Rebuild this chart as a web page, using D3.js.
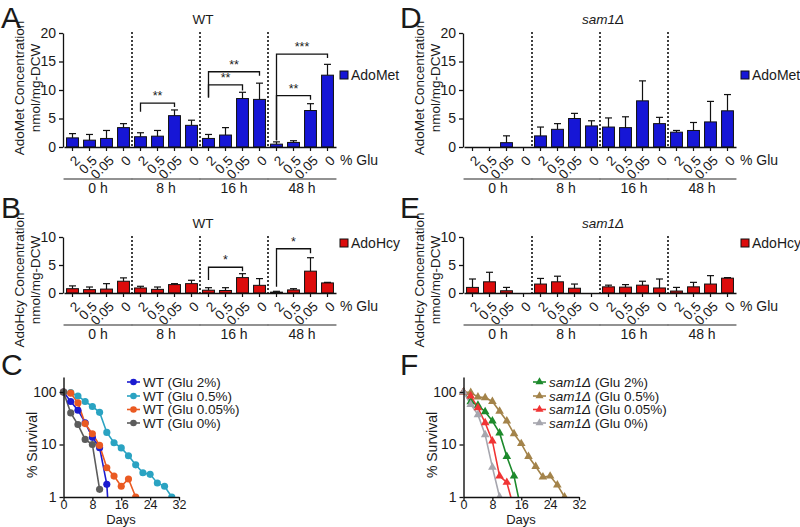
<!DOCTYPE html>
<html><head><meta charset="utf-8">
<script src="https://cdn.jsdelivr.net/npm/d3@7"></script>
<style>body{margin:0;background:#fff}svg{display:block}text{font-family:"Liberation Sans",Arial,sans-serif;fill:#1a1a1a}</style>
</head><body><div id="chart"></div>
<script>
// ---------- data ----------
const gluLevels = ["2", "0.5", "0.05", "0"];
const timePoints = ["0 h", "8 h", "16 h", "48 h"];
const barTicksA = [0, 5, 10, 15, 20];
const barTicksB = [0, 5, 10];

const wtAdoMet    = [1.6, 1.2, 1.5, 3.4,  1.8, 1.9, 5.5, 3.8,  1.5, 2.1, 8.5, 8.35,  0.5, 0.8, 6.4, 12.6];
const wtAdoMetErr = [0.75, 1.0, 1.4, 0.7, 0.7, 1.0, 1.0, 0.9,  0.7, 1.3, 1.1, 2.85,  0.4, 0.3, 1.2, 1.9];
const wtAdoHcy    = [0.77, 0.6, 0.7, 2.1, 0.9, 0.65, 1.5, 1.67, 0.5, 0.45, 2.75, 1.37, 0.15, 0.55, 3.9, 1.8];
const wtAdoHcyErr = [0.5, 0.47, 0.97, 0.6, 0.3, 0.42, 0.17, 0.6, 0.45, 0.5, 0.7, 1.2, 0.15, 0.22, 2.4, 0.1];
const samAdoMet    = [0, 0, 0.76, 0,  1.95, 3.1, 5.0, 3.7,  3.5, 3.4, 8.1, 4.1,  2.6, 2.9, 4.4, 6.35];
const samAdoMetErr = [0, 0, 1.2, 0,   1.55, 1.0, 0.9, 0.9,  1.6, 1.9, 3.5, 1.1,  0.3, 1.4, 3.6, 2.85];
const samAdoHcy    = [1.0, 2.0, 0.4, 0,  1.6, 2.0, 0.85, 0,  1.1, 1.05, 1.4, 0.9,  0.35, 1.1, 1.6, 2.65];
const samAdoHcyErr = [1.5, 1.7, 0.6, 0,  1.0, 1.0, 0.75, 0,  0.3, 0.45, 0.7, 1.6,  0.65, 0.8, 1.5, 0.1];

// significance brackets: [fromBar, toBar, y, leftLegEnd, rightLegEnd, label]
const bracketsA = [[4, 6, 7.7, 6.2, 7.0, "**"], [8, 10, 10.9, 8.7, 9.9, "**"], [8, 11, 13.2, 8.7, 12.5, "**"],
                   [12, 14, 9.0, 1.2, 8.3, "**"], [12, 15, 16.3, 1.2, 15.6, "***"]];
const bracketsB = [[8, 10, 4.6, 2.3, 3.9, "*"], [12, 14, 7.9, 1.1, 7.1, "*"]];

const survTicksX = [0, 8, 16, 24, 32];
const survTicksY = [1, 10, 100];
const wtNames = ["WT (Glu 2%)", "WT (Glu 0.5%)", "WT (Glu 0.05%)", "WT (Glu 0%)"];
const samNames = ["(Glu 2%)", "(Glu 0.5%)", "(Glu 0.05%)", "(Glu 0%)"];
const wtDays = [
  [0, 2, 4, 6, 8, 10, 12, 14],
  [0, 2, 4, 6, 8, 10, 12, 14, 16, 18, 20, 22, 24, 26, 28, 30],
  [0, 2, 4, 6, 8, 10, 12, 14, 16, 18, 20],
  [0, 2, 4, 6, 8, 10]];
const wtSurv = [
  [100, 66, 45, 26, 13.7, 8.7, 1.74, 0.01],
  [100, 97, 84, 66, 53, 41, 17, 10.8, 8.6, 6.1, 4.1, 2.9, 2.7, 1.85, 1.6, 1.0],
  [100, 95, 62, 25, 16, 9.6, 3.6, 2.5, 1.6, 2.2, 1.0],
  [100, 40, 24, 12.5, 10, 1.4]];
const samDays = [
  [0, 2, 4, 6, 8, 10, 12, 14, 16],
  [0, 2, 4, 6, 8, 10, 12, 14, 16, 18, 20, 22, 24, 26, 28],
  [0, 2, 4, 6, 8, 10, 12, 14],
  [0, 2, 4, 6, 8, 10]];
const samSurv = [
  [100, 65, 56, 42, 28, 16.6, 5.9, 2.5, 0.55],
  [100, 98, 80, 78, 66, 43, 28, 16, 10.4, 5.9, 3.8, 2.4, 2.5, 1.7, 1.0],
  [100, 84, 50, 26, 11.7, 2.5, 1.9, 0.6],
  [100, 58, 37, 15.4, 3.7, 1.0]];
const wtColors = ["#1b1bd0", "#2aa3c2", "#ea5a22", "#5c5c5c"];
const samColors = ["#1d8a2c", "#a3834a", "#f03434", "#a6a6ae"];

// ---------- drawing ----------
const FONT = "Liberation Sans, Arial, sans-serif";
const svg = d3.select("#chart").append("svg").attr("width", 800).attr("height", 527);

function letter(t, x, y) {
  svg.append("text").attr("x", x).attr("y", y).attr("font-size", 30).text(t);
}

function barPanel(o) {
  const g = svg.append("g");
  const x = d3.scaleBand().domain(d3.range(16)).range([o.ox + 64, o.ox + 336]).paddingInner(0.3).paddingOuter(0.15);
  const y = d3.scaleLinear().domain([0, o.ymax]).range([o.axisY, o.topY]);
  const bw = x.bandwidth(), step = x.step();
  [4, 8, 12].forEach(i => {
    const sx = x(i) - (step - bw) / 2;
    g.append("line").attr("x1", sx).attr("x2", sx).attr("y1", o.topY - 1).attr("y2", o.axisY)
      .attr("stroke", "#111").attr("stroke-width", 1.6).attr("stroke-dasharray", "2,2");
  });
  g.selectAll(".bar").data(o.vals).join("rect")
    .attr("x", (d, i) => x(i)).attr("width", bw)
    .attr("y", d => y(d)).attr("height", d => o.axisY - y(d))
    .attr("fill", o.color).attr("stroke", "#111").attr("stroke-width", 1);
  o.vals.forEach((v, i) => {
    if (o.errs[i] <= 0) return;
    const cx = x(i) + bw / 2, yt = y(v + o.errs[i]);
    g.append("line").attr("x1", cx).attr("x2", cx).attr("y1", y(v)).attr("y2", yt).attr("stroke", "#111").attr("stroke-width", 1.2);
    g.append("line").attr("x1", cx - 3.5).attr("x2", cx + 3.5).attr("y1", yt).attr("y2", yt).attr("stroke", "#111").attr("stroke-width", 1.2);
  });
  (o.brackets || []).forEach(b => {
    const x1 = x(b[0]) + bw / 2, x2 = x(b[1]) + bw / 2, yy = y(b[2]);
    g.append("path").attr("d", `M${x1},${y(b[3])}V${yy}H${x2}V${y(b[4])}`)
      .attr("fill", "none").attr("stroke", "#111").attr("stroke-width", 1.3);
    g.append("text").attr("x", (x1 + x2) / 2).attr("y", yy - 3).attr("text-anchor", "middle")
      .attr("font-size", 12.5).text(b[5]);
  });
  const ya = g.append("g").attr("transform", `translate(${o.ox + 63},0)`)
    .call(d3.axisLeft(y).tickValues(o.ticks).tickSize(4).tickSizeOuter(0).tickPadding(3));
  ya.select(".domain").attr("stroke", "#111").attr("stroke-width", 1.3);
  ya.selectAll(".tick line").attr("stroke", "#111").attr("stroke-width", 1.3);
  ya.selectAll("text").attr("font-size", 14).attr("font-family", FONT).attr("fill", "#1a1a1a");
  const xa = g.append("g").attr("transform", `translate(0,${o.axisY})`)
    .call(d3.axisBottom(x).tickSize(4).tickSizeOuter(0).tickFormat(i => gluLevels[i % 4]));
  xa.select(".domain").attr("stroke", "#111").attr("stroke-width", 1.3);
  xa.selectAll(".tick line").attr("stroke", "#111").attr("stroke-width", 1.2);
  xa.selectAll("text").attr("font-size", 13.5).attr("font-family", FONT).attr("fill", "#1a1a1a")
    .attr("text-anchor", "end").attr("y", 0).attr("dy", "0.35em")
    .attr("transform", "translate(5,11) rotate(-45)");
  g.append("text").attr("x", o.ox + 340).attr("y", o.axisY + 18).attr("font-size", 14).text("% Glu");
  timePoints.forEach((t, k) => {
    const a = x(4 * k) - 3, b = x(4 * k + 3) + bw + 3;
    g.append("line").attr("x1", a).attr("x2", b).attr("y1", o.axisY + 32).attr("y2", o.axisY + 32)
      .attr("stroke", "#6e6e6e").attr("stroke-width", 1.5);
    g.append("text").attr("x", (a + b) / 2).attr("y", o.axisY + 46).attr("text-anchor", "middle")
      .attr("font-size", 14).text(t);
  });
  const tt = g.append("text").attr("x", o.ox + 203).attr("y", o.topY - 9).attr("text-anchor", "middle").attr("font-size", 13.5);
  if (o.italicTitle) { tt.append("tspan").attr("font-style", "italic").text("sam1\u0394"); }
  else tt.text("WT");
  g.append("rect").attr("x", o.ox + o.legX).attr("y", o.legY - 4).attr("width", 8).attr("height", 8)
    .attr("fill", o.color).attr("stroke", "#111").attr("stroke-width", 1);
  g.append("text").attr("x", o.ox + o.legX + 11).attr("y", o.legY).attr("dy", "0.35em").attr("font-size", 14).text(o.legend);
  [[o.label1, 19], ["nmol/mg-DCW", 35]].forEach(([t, lx]) => {
    g.append("text").attr("transform", `translate(${o.ox + lx},${o.labCy}) rotate(-90)`).attr("text-anchor", "middle")
      .attr("dy", "0.35em").attr("font-size", 13.5).text(t);
  });
}

barPanel({ox: 0, axisY: 147, topY: 33, ymax: 20, ticks: barTicksA, vals: wtAdoMet, errs: wtAdoMetErr, color: "#1616d6",
  brackets: bracketsA, legend: "AdoMet", legX: 340, legY: 75, label1: "AdoMet Concentration", labCy: 88});
barPanel({ox: 400, axisY: 147, topY: 33, ymax: 20, ticks: barTicksA, vals: samAdoMet, errs: samAdoMetErr, color: "#1616d6",
  italicTitle: true, legend: "AdoMet", legX: 341, legY: 75, label1: "AdoMet Concentration", labCy: 88});
barPanel({ox: 0, axisY: 293, topY: 237, ymax: 10, ticks: barTicksB, vals: wtAdoHcy, errs: wtAdoHcyErr, color: "#dc0c0c",
  brackets: bracketsB, legend: "AdoHcy", legX: 340, legY: 243, label1: "AdoHcy Concentration", labCy: 280});
barPanel({ox: 400, axisY: 293, topY: 237, ymax: 10, ticks: barTicksB, vals: samAdoHcy, errs: samAdoHcyErr, color: "#dc0c0c",
  italicTitle: true, legend: "AdoHcy", legX: 341, legY: 243, label1: "AdoHcy Concentration", labCy: 280});

function survPanel(o) {
  const g = svg.append("g");
  const x = d3.scaleLinear().domain([0, 32]).range([o.ox + 63.5, o.ox + 179]);
  const y = d3.scaleLog().domain([1, 193]).range([497, 377]);
  const clipId = "clip" + o.ox;
  svg.append("clipPath").attr("id", clipId).append("rect").attr("x", o.ox + 55).attr("y", 370).attr("width", 140).attr("height", 127.5);
  const line = d3.line().x(d => x(d[0])).y(d => y(Math.max(d[1], 1e-4)));
  const cg = g.append("g").attr("clip-path", `url(#${clipId})`);
  o.days.forEach((ds, k) => {
    const pts = ds.map((d, i) => [d, o.vals[k][i]]);
    cg.append("path").attr("d", line(pts)).attr("fill", "none").attr("stroke", o.colors[k]).attr("stroke-width", 1.6);
  });
  o.days.forEach((ds, k) => {
    const pts = ds.map((d, i) => [d, o.vals[k][i]]).filter(p => p[1] >= 1);
    cg.selectAll(null).data(pts).join("path")
      .attr("transform", p => `translate(${x(p[0])},${y(p[1])})`)
      .attr("d", d3.symbol(o.tri ? d3.symbolTriangle : d3.symbolCircle, o.tri ? 32 : 40))
      .attr("fill", o.colors[k]);
  });
  const ya = g.append("g").attr("transform", `translate(${o.ox + 63.5},0)`)
    .call(d3.axisLeft(y).tickValues(survTicksY).tickFormat(d3.format("d")).tickSize(4).tickSizeOuter(0).tickPadding(3));
  const xa = g.append("g").attr("transform", "translate(0,497)")
    .call(d3.axisBottom(x).tickValues(survTicksX).tickSize(3.5).tickSizeOuter(0).tickPadding(0));
  [ya, xa].forEach(a => {
    a.select(".domain").attr("stroke", "#111").attr("stroke-width", 1.4);
    a.selectAll(".tick line").attr("stroke", "#111").attr("stroke-width", 1.3);
    a.selectAll("text").attr("font-size", 14).attr("font-family", FONT).attr("fill", "#1a1a1a");
  });
  xa.selectAll("text").attr("font-size", 12.5);
  g.append("text").attr("x", o.ox + 121).attr("y", 524).attr("text-anchor", "middle").attr("font-size", 13).text("Days");
  g.append("text").attr("transform", `translate(${o.ox + 32},445) rotate(-90)`).attr("text-anchor", "middle")
    .attr("dy", "0.35em").attr("font-size", 14).text("% Survival");
  const rows = [382, 396, 409.5, 423];
  o.names.forEach((n, k) => {
    const lx = o.ox + o.legX;
    g.append("line").attr("x1", lx).attr("x2", lx + 13).attr("y1", rows[k]).attr("y2", rows[k]).attr("stroke", o.colors[k]).attr("stroke-width", 1.6);
    g.append("path").attr("transform", `translate(${lx + 6.5},${rows[k]})`)
      .attr("d", d3.symbol(o.tri ? d3.symbolTriangle : d3.symbolCircle, o.tri ? 28 : 34)).attr("fill", o.colors[k]);
    const t = g.append("text").attr("x", lx + 16).attr("y", rows[k]).attr("dy", "0.35em").attr("font-size", 13.5);
    if (o.tri) { t.append("tspan").attr("font-style", "italic").text("sam1\u0394"); t.append("tspan").text(" " + n); }
    else t.text(n);
  });
}

survPanel({ox: 0, days: wtDays, vals: wtSurv, colors: wtColors, names: wtNames, tri: false, legX: 127});
survPanel({ox: 400, days: samDays, vals: samSurv, colors: samColors, names: samNames, tri: true, legX: 133});

letter("A", 1, 28); letter("D", 400, 28);
letter("B", 1, 218); letter("E", 400, 218);
letter("C", 1, 375); letter("F", 400, 375);
</script></body></html>
